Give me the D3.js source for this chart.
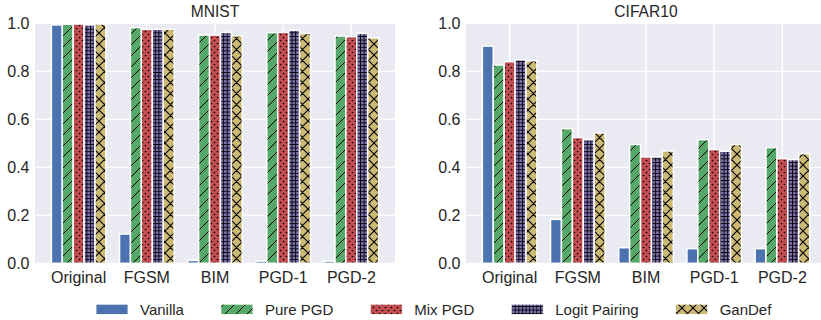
<!DOCTYPE html>
<html>
<head>
<meta charset="utf-8">
<script src="https://cdn.jsdelivr.net/npm/d3@7"></script>
<style>
  html, body { margin: 0; padding: 0; background: #fff; }
  svg { display: block; font-family: "Liberation Sans", Arial, sans-serif; }
</style>
</head>
<body>
<svg id="chart" width="821" height="320"></svg>
<script>
'use strict';

// categories on the x axis
var categories = ['Original', 'FGSM', 'BIM', 'PGD-1', 'PGD-2'];
// defence methods, in bar order
var methods = ['Vanilla', 'Pure PGD', 'Mix PGD', 'Logit Pairing', 'GanDef'];
var yTicks = [0.0, 0.2, 0.4, 0.6, 0.8, 1.0];

// MNIST accuracy, one array per method
var mnistVanilla = [0.993, 0.122, 0.012, 0.009, 0.009];
var mnistPurePGD = [0.996, 0.982, 0.951, 0.961, 0.947];
var mnistMixPGD = [0.997, 0.975, 0.951, 0.962, 0.944];
var mnistLogit = [0.993, 0.975, 0.962, 0.971, 0.958];
var mnistGanDef = [0.997, 0.975, 0.948, 0.958, 0.940];

// CIFAR10 accuracy
var cifarVanilla = [0.905, 0.183, 0.065, 0.061, 0.061];
var cifarPurePGD = [0.826, 0.561, 0.495, 0.515, 0.482];
var cifarMixPGD = [0.840, 0.524, 0.443, 0.474, 0.436];
var cifarLogit = [0.848, 0.515, 0.443, 0.467, 0.432];
var cifarGanDef = [0.844, 0.543, 0.468, 0.495, 0.457];

var colors = ['#4C72B0', '#55A868', '#C44E52', '#8172B2', '#CCB974'];
var textColor = '#262626';

var svg = d3.select('#chart');
var defs = svg.append('defs');

/**
 * Hatch fills, one per method (the first is plain colour).
 */
function makePattern(id, w, h, color, draw) {
  var p = defs.append('pattern')
    .attr('id', id)
    .attr('patternUnits', 'userSpaceOnUse')
    .attr('width', w)
    .attr('height', h);
  p.append('rect').attr('width', w).attr('height', h).attr('fill', color);
  draw(p);
}

makePattern('hatch-1', 11, 11, colors[1], function (p) {
  var d = 'M0,11L11,0M-2,2L2,-2M9,13L13,9';
  p.append('path').attr('d', d).attr('stroke', '#000').attr('stroke-width', 1);
});
makePattern('hatch-2', 6, 6, colors[2], function (p) {
  [[1.5, 1.5], [4.5, 4.5]].forEach(function (c) {
    p.append('circle').attr('cx', c[0]).attr('cy', c[1]).attr('r', 0.85).attr('fill', '#000');
  });
});
makePattern('hatch-3', 3.6, 3.6, colors[3], function (p) {
  p.append('path').attr('d', 'M0,0.5H3.6M0.5,0V3.6')
    .attr('stroke', '#000').attr('stroke-width', 0.9);
});
makePattern('hatch-4', 11, 11, colors[4], function (p) {
  var d = 'M0,11L11,0M-2,2L2,-2M9,13L13,9M0,0L11,11M-2,9L2,13M9,-2L13,2';
  p.append('path').attr('d', d).attr('stroke', '#000').attr('stroke-width', 1.1);
});

function fillFor(i) {
  return i === 0 ? colors[0] : 'url(#hatch-' + i + ')';
}

var plotWidth = 360,
    plotTop = 23.3,
    plotBottom = 263.3,
    barWidth = 0.16;

/**
 * Draws one panel of grouped bars.
 */
function drawPanel(x0, title, series) {
  var g = svg.append('g');

  var x = d3.scaleLinear().domain([-0.64, 4.64]).range([x0, x0 + plotWidth]);
  var y = d3.scaleLinear().domain([0, 1]).range([plotBottom, plotTop]);

  g.append('rect')
    .attr('x', x0).attr('y', plotTop)
    .attr('width', plotWidth).attr('height', plotBottom - plotTop)
    .attr('fill', '#EAEAF2');

  // grid
  g.selectAll('.hgrid').data(yTicks).enter().append('line')
    .attr('x1', x0).attr('x2', x0 + plotWidth)
    .attr('y1', function (d) { return y(d); })
    .attr('y2', function (d) { return y(d); })
    .attr('stroke', '#fff').attr('stroke-width', 1.3);
  g.selectAll('.vgrid').data(categories).enter().append('line')
    .attr('x1', function (d, i) { return x(i); })
    .attr('x2', function (d, i) { return x(i); })
    .attr('y1', plotTop).attr('y2', plotBottom)
    .attr('stroke', '#fff').attr('stroke-width', 1.3);

  // bars
  series.forEach(function (values, m) {
    g.selectAll('.bar-' + m).data(values).enter().append('rect')
      .attr('x', function (d, i) { return x(i - 0.4 + m * barWidth); })
      .attr('width', x(barWidth) - x(0))
      .attr('y', function (d) { return y(d); })
      .attr('height', function (d) { return y(0) - y(d); })
      .attr('fill', fillFor(m))
      .attr('stroke', '#fff')
      .attr('stroke-width', 1.5);
  });

  // y axis labels
  g.selectAll('.ylab').data(yTicks).enter().append('text')
    .attr('x', x0 - 5.5)
    .attr('y', function (d) { return y(d); })
    .attr('dy', '0.36em')
    .attr('text-anchor', 'end')
    .attr('font-size', 16)
    .attr('fill', textColor)
    .text(function (d) { return d3.format('.1f')(d); });

  // x axis labels
  g.selectAll('.xlab').data(categories).enter().append('text')
    .attr('x', function (d, i) { return x(i); })
    .attr('y', 282.5)
    .attr('text-anchor', 'middle')
    .attr('font-size', 16)
    .attr('fill', textColor)
    .text(function (d) { return d; });

  g.append('text')
    .attr('x', x(2))
    .attr('y', 17.3)
    .attr('text-anchor', 'middle')
    .attr('font-size', 15.6)
    .attr('fill', textColor)
    .text(title);
}

drawPanel(35, 'MNIST',
  [mnistVanilla, mnistPurePGD, mnistMixPGD, mnistLogit, mnistGanDef]);
drawPanel(466, 'CIFAR10',
  [cifarVanilla, cifarPurePGD, cifarMixPGD, cifarLogit, cifarGanDef]);

// legend, laid out left to right from measured text widths
var legend = svg.append('g');
var lx = 96;
methods.forEach(function (name, i) {
  legend.append('rect')
    .attr('x', lx).attr('y', 304.2)
    .attr('width', 32).attr('height', 10.2)
    .attr('fill', fillFor(i))
    .attr('stroke', '#fff').attr('stroke-width', 0.8);
  var t = legend.append('text')
    .attr('x', lx + 44).attr('y', 315.2)
    .attr('font-size', 15)
    .attr('fill', textColor)
    .text(name);
  lx += 44 + t.node().getComputedTextLength() + 37;
});
</script>
</body>
</html>
